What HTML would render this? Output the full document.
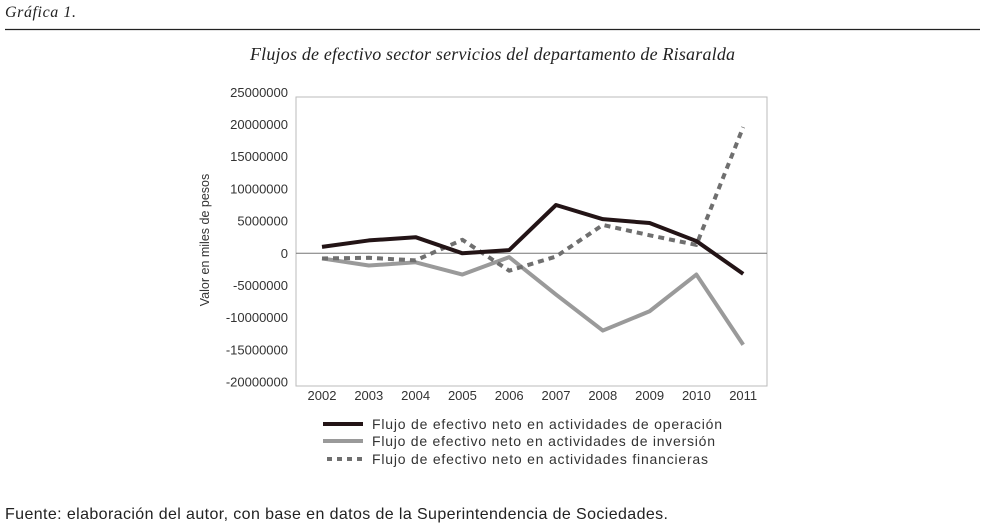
<!DOCTYPE html>
<html><head><meta charset="utf-8"><style>
html,body{margin:0;padding:0;background:#fff;width:983px;height:525px;overflow:hidden}
svg{display:block}
</style></head><body>
<svg id="c" width="983" height="525" xmlns="http://www.w3.org/2000/svg">
<text x="5" y="17" font-family="Liberation Serif, serif" font-style="italic" font-size="16" textLength="71" fill="#222">Gráfica 1.</text>
<line x1="5" y1="29.5" x2="980" y2="29.5" stroke="#222" stroke-width="1.2"/>
<text x="250" y="60" font-family="Liberation Serif, serif" font-style="italic" font-size="18" textLength="485" fill="#222">Flujos de efectivo sector servicios del departamento de Risaralda</text>
<rect x="296" y="97" width="471" height="289" fill="none" stroke="#bbb" stroke-width="1"/>
<g id="yt"></g>
<g id="xt"></g>
<text transform="translate(209,240) rotate(-90)" text-anchor="middle" font-family="Liberation Sans, sans-serif" font-size="12.5" fill="#333">Valor en miles de pesos</text>
<g id="series"></g>
<g>
<g><line x1="323" y1="424" x2="363" y2="424" stroke="#231416" stroke-width="4"/><text x="372" y="429" font-family="Liberation Sans, sans-serif" font-size="14" textLength="350" fill="#333">Flujo de efectivo neto en actividades de operación</text></g>
<g><line x1="323" y1="441" x2="363" y2="441" stroke="#9a9a9a" stroke-width="4"/><text x="372" y="446" font-family="Liberation Sans, sans-serif" font-size="14" textLength="343" fill="#333">Flujo de efectivo neto en actividades de inversión</text></g>
<g><line x1="323" y1="459" x2="363" y2="459" stroke="#6f6f6f" stroke-width="4" stroke-dasharray="5,5" stroke-dashoffset="6"/><text x="372" y="464" font-family="Liberation Sans, sans-serif" font-size="14" textLength="336" fill="#333">Flujo de efectivo neto en actividades financieras</text></g>
</g>
<text x="5" y="519" font-family="Liberation Sans, sans-serif" font-size="16" textLength="663" fill="#222">Fuente: elaboración del autor, con base en datos de la Superintendencia de Sociedades.</text>
</svg>
<script>
const years = ["2002","2003","2004","2005","2006","2007","2008","2009","2010","2011"];
const operacion = [1000000,2000000,2500000,0,500000,7500000,5300000,4700000,1900000,-3200000];
const inversion = [-800000,-1900000,-1400000,-3300000,-600000,-6400000,-12000000,-9000000,-3300000,-14200000];
const financieras = [-800000,-700000,-1100000,2100000,-2700000,-500000,4400000,2800000,1300000,19600000];
const yTicks = [25000000,20000000,15000000,10000000,5000000,0,-5000000,-10000000,-15000000,-20000000];
const NS="http://www.w3.org/2000/svg";
function X(i){return 322+i*46.8;}
function Y(v){return 253.3 - v/5000000*32.2;}
const yt=document.getElementById('yt'), xt=document.getElementById('xt'), sg=document.getElementById('series');
yTicks.forEach(v=>{
 const t=document.createElementNS(NS,'text');
 
 
 t.setAttribute('x',288);t.setAttribute('y',Y(v)+4.5);t.setAttribute('text-anchor','end');
 t.setAttribute('font-family','Liberation Sans, sans-serif');t.setAttribute('font-size','13');t.setAttribute('fill','#333');
 t.textContent=v;yt.appendChild(t);
});
const z=document.createElementNS(NS,'line');


z.setAttribute('x1',296);z.setAttribute('x2',767);z.setAttribute('y1',Y(0));z.setAttribute('y2',Y(0));z.setAttribute('stroke','#777');z.setAttribute('stroke-width','1');
yt.appendChild(z);
years.forEach((y,i)=>{
 const t=document.createElementNS(NS,'text');
 
 
 t.setAttribute('x',X(i));t.setAttribute('y',400);t.setAttribute('text-anchor','middle');
 t.setAttribute('font-family','Liberation Sans, sans-serif');t.setAttribute('font-size','13');t.setAttribute('fill','#333');
 t.textContent=y;xt.appendChild(t);
});
function line(data,color,dash,name){
 const p=document.createElementNS(NS,'polyline');
 
 
 p.setAttribute('points',data.map((v,i)=>X(i)+','+Y(v)).join(' '));
 p.setAttribute('fill','none');p.setAttribute('stroke',color);p.setAttribute('stroke-width','4');
 p.setAttribute('stroke-linejoin','round');
 if(dash)p.setAttribute('stroke-dasharray',dash);
 sg.appendChild(p);
}
line(inversion,'#9a9a9a',null,'series-inversion');
line(financieras,'#6f6f6f','6,5','series-financieras');
line(operacion,'#231416',null,'series-operacion');
</script>
</body></html>
